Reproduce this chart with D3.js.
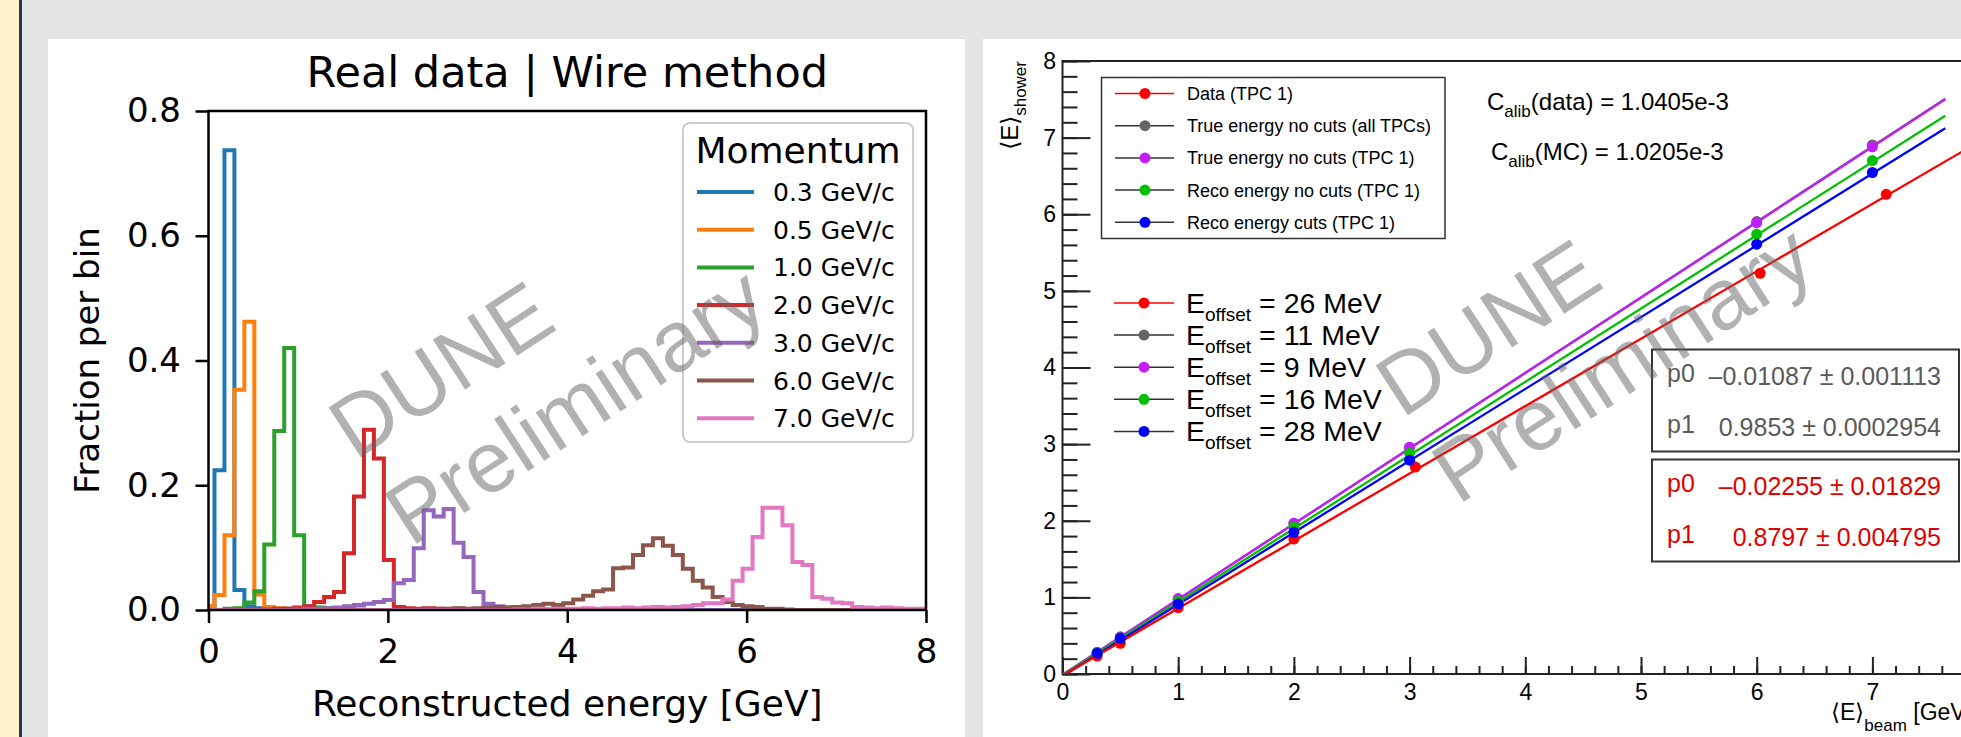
<!DOCTYPE html>
<html><head><meta charset="utf-8">
<script src="https://cdn.jsdelivr.net/npm/d3@7/dist/d3.min.js"></script>
<style>
html,body{margin:0;padding:0;background:#e5e5e5;overflow:hidden}
svg{display:block}
</style></head><body>
<svg id="chart" width="1961" height="737"></svg>
<script>
// ================= LEFT PANEL DATA (histograms, fraction per bin) =================
const momentumLabels = ["0.3 GeV/c","0.5 GeV/c","1.0 GeV/c","2.0 GeV/c","3.0 GeV/c","6.0 GeV/c","7.0 GeV/c"];
const histColors = ["#1f77b4","#ff7f0e","#2ca02c","#d62728","#9467bd","#8c564b","#e377c2"];
const binFirstEdge = 0.0667;      // GeV, edge of bin 0
const binWidth = 0.1111;          // GeV
const binIndexMin = -1, binIndexMax = 71;
// first bin index of each listed series, then the per-bin fractions
const histStart = [-1, -1, 1, 5, 8, 20, 30];
const hist_0p3 = [0.006, 0.224, 0.737, 0.032, 0.006, 0.003, 0.002, 0.001, 0.002, 0.001, 0.001];
const hist_0p5 = [0.006, 0.024, 0.120, 0.353, 0.462, 0.025, 0.005, 0.003, 0.002, 0.002, 0.001, 0.001];
const hist_1p0 = [0.002, 0.003, 0.012, 0.030, 0.105, 0.287, 0.420, 0.120, 0.006, 0.004, 0.003, 0.002, 0.002, 0.001];
const hist_2p0 = [0.001, 0.002, 0.002, 0.004, 0.006, 0.013, 0.021, 0.029, 0.091, 0.182, 0.289, 0.243, 0.080, 0.005, 0.003, 0.002, 0.003, 0.002, 0.001, 0.002, 0.001];
const hist_3p0 = [0.001, 0.002, 0.002, 0.003, 0.004, 0.006, 0.008, 0.010, 0.013, 0.016, 0.043, 0.048, 0.099, 0.160, 0.150, 0.162, 0.108, 0.085, 0.029, 0.010, 0.006, 0.004, 0.003, 0.002, 0.002, 0.001];
const hist_6p0 = [0.001, 0.002, 0.002, 0.002, 0.003, 0.002, 0.003, 0.004, 0.005, 0.004, 0.005, 0.006, 0.008, 0.010, 0.008, 0.011, 0.017, 0.023, 0.030, 0.033, 0.067, 0.068, 0.088, 0.104, 0.115, 0.103, 0.088, 0.066, 0.047, 0.036, 0.021, 0.013, 0.008, 0.006, 0.005, 0.002, 0.002, 0.001];
const hist_7p0 = [0.001, 0.001, 0.002, 0.001, 0.002, 0.002, 0.002, 0.003, 0.002, 0.003, 0.003, 0.004, 0.003, 0.004, 0.005, 0.004, 0.005, 0.006, 0.008, 0.011, 0.011, 0.017, 0.047, 0.066, 0.117, 0.164, 0.164, 0.136, 0.077, 0.072, 0.021, 0.018, 0.012, 0.011, 0.005, 0.004, 0.003, 0.004, 0.003, 0.002, 0.002, 0.002];
const histValues = [hist_0p3, hist_0p5, hist_1p0, hist_2p0, hist_3p0, hist_6p0, hist_7p0];
const leftXTicks = [0, 2, 4, 6, 8];
const leftYTicks = [0, 0.2, 0.4, 0.6, 0.8];

// ================= RIGHT PANEL DATA (linearity) =================
const seriesNames = ["Data (TPC 1)", "True energy no cuts (all TPCs)", "True energy no cuts (TPC 1)", "Reco energy no cuts (TPC 1)", "Reco energy cuts (TPC 1)"];
const seriesColors = ["#ff0000", "#666666", "#c21cff", "#00c000", "#0000ff"];
const offsetLabels = ["26", "11", "9", "16", "28"];
const beamE_data = [0.3, 0.5, 1.0, 2.0, 3.05, 6.03, 7.12];
const beamE_mc   = [0.3, 0.5, 1.0, 2.0, 3.0, 6.0, 7.0];
const showerE_data       = [0.235, 0.400, 0.866, 1.762, 2.700, 5.230, 6.260];
const showerE_trueAll    = [0.285, 0.485, 0.975, 1.965, 2.955, 5.905, 6.905];
const showerE_trueTPC1   = [0.280, 0.480, 0.985, 1.967, 2.960, 5.890, 6.880];
const showerE_recoNoCuts = [0.275, 0.470, 0.950, 1.920, 2.880, 5.740, 6.700];
const showerE_recoCuts   = [0.270, 0.466, 0.914, 1.850, 2.790, 5.610, 6.545];
const showerValues = [showerE_data, showerE_trueAll, showerE_trueTPC1, showerE_recoNoCuts, showerE_recoCuts];
const fitP0 = [-0.02255, -0.01087, -0.009, -0.016, -0.028];
const fitP1 = [0.8797, 0.9853, 0.984, 0.957, 0.937];
const fitXMax = [8.0, 7.63, 7.63, 7.63, 7.63];
const rightYTicks = [0, 1, 2, 3, 4, 5, 6, 7, 8];
const rightXTicks = [0, 1, 2, 3, 4, 5, 6, 7];
const calibTexts = ["(data) = 1.0405e-3", "(MC) = 1.0205e-3"];
const fitBoxGray = [["p0", "\u20130.01087 \u00b1 0.001113"], ["p1", "0.9853 \u00b1 0.0002954"]];
const fitBoxRed  = [["p0", "\u20130.02255 \u00b1 0.01829"], ["p1", "0.8797 \u00b1 0.004795"]];

// ================= DRAW =================
const svg = d3.select("#chart");
const defs = svg.append("defs");
svg.append("rect").attr("width", 1961).attr("height", 737).attr("fill", "#e5e5e5");
svg.append("rect").attr("x", 0).attr("y", 0).attr("width", 19).attr("height", 737).attr("fill", "#fff2cc");
svg.append("rect").attr("x", 19).attr("y", 0).attr("width", 3).attr("height", 737).attr("fill", "#1f3864");
svg.append("rect").attr("x", 48).attr("y", 39).attr("width", 917).attr("height", 698).attr("fill", "#fff");
svg.append("rect").attr("x", 983).attr("y", 39).attr("width", 978).attr("height", 698).attr("fill", "#fff");

// ---------- LEFT ----------
const LF = "'DejaVu Sans', sans-serif";
const L = {x0: 208.5, x1: 926, y0: 610, y1: 111};
const xL = d3.scaleLinear().domain([0, 8]).range([L.x0, L.x1]);
const yL = d3.scaleLinear().domain([0, 0.8]).range([L.y0, L.y1]);
defs.append("clipPath").attr("id", "clipL").append("rect")
  .attr("x", L.x0).attr("y", L.y1).attr("width", L.x1 - L.x0).attr("height", L.y0 - L.y1);
const gL = svg.append("g");
const edge = k => binFirstEdge + k * binWidth;
const stepLine = d3.line().x(d => xL(d[0])).y(d => yL(d[1]));
histValues.forEach((vals, i) => {
  const s = histStart[i];
  const val = k => (k >= s && k < s + vals.length) ? vals[k - s] : 0;
  const pts = [[edge(binIndexMin), 0]];
  for (let k = binIndexMin; k <= binIndexMax; k++) { const v = val(k); pts.push([edge(k), v], [edge(k + 1), v]); }
  pts.push([edge(binIndexMax + 1), 0]);
  gL.append("path").attr("clip-path", "url(#clipL)").attr("d", stepLine(pts))
    .attr("fill", "none").attr("stroke", histColors[i]).attr("stroke-width", 4).attr("stroke-linejoin", "miter");
});
const axLB = gL.append("g").attr("transform", `translate(0,${L.y0})`)
  .call(d3.axisBottom(xL).tickValues(leftXTicks).tickFormat(d3.format("d")).tickSize(13).tickPadding(16).tickSizeOuter(0));
const axLL = gL.append("g").attr("transform", `translate(${L.x0},0)`)
  .call(d3.axisLeft(yL).tickValues(leftYTicks).tickFormat(d3.format(".1f")).tickSize(13).tickPadding(14.5).tickSizeOuter(0));
[axLB, axLL].forEach(a => {
  a.select(".domain").remove();
  a.selectAll("line").attr("stroke", "#000").attr("stroke-width", 2.5);
  a.selectAll("text").attr("font-family", LF).attr("font-size", 34).attr("fill", "#000");
});
gL.append("rect").attr("x", L.x0).attr("y", L.y1).attr("width", L.x1 - L.x0).attr("height", L.y0 - L.y1)
  .attr("fill", "none").attr("stroke", "#000").attr("stroke-width", 2.5);
gL.append("text").attr("x", (L.x0 + L.x1) / 2).attr("y", 87).attr("text-anchor", "middle")
  .attr("font-family", LF).attr("font-size", 43).text("Real data | Wire method");
gL.append("text").attr("x", (L.x0 + L.x1) / 2).attr("y", 716).attr("text-anchor", "middle")
  .attr("font-family", LF).attr("font-size", 36).text("Reconstructed energy [GeV]");
gL.append("text").attr("transform", `translate(99,${(L.y0 + L.y1) / 2}) rotate(-90)`).attr("text-anchor", "middle")
  .attr("font-family", LF).attr("font-size", 34).text("Fraction per bin");
// legend
const lg = gL.append("g");
lg.append("rect").attr("x", 683).attr("y", 123).attr("width", 230).attr("height", 319).attr("rx", 7)
  .attr("fill", "#fff").attr("fill-opacity", 0.8).attr("stroke", "#cccccc").attr("stroke-width", 2);
lg.append("text").attr("x", 798).attr("y", 163).attr("text-anchor", "middle")
  .attr("font-family", LF).attr("font-size", 36).text("Momentum");
momentumLabels.forEach((lab, i) => {
  const cy = 192 + i * 37.7;
  lg.append("line").attr("x1", 697).attr("x2", 754).attr("y1", cy).attr("y2", cy)
    .attr("stroke", histColors[i]).attr("stroke-width", 4);
  lg.append("text").attr("x", 773).attr("y", cy + 9).attr("font-family", LF).attr("font-size", 25).text(lab);
});

// watermark helper
function watermark(x, y) {
  const g = svg.append("g").attr("transform", `translate(${x},${y}) rotate(-33)`);
  const t = g.append("text").attr("font-family", "'Liberation Sans', Arial, sans-serif").attr("font-size", 86)
    .attr("fill", "#646464").attr("fill-opacity", 0.5);
  t.append("tspan").attr("x", 0).attr("y", 0).text("DUNE");
  t.append("tspan").attr("x", 0).attr("y", 103).text("Preliminary");
}
watermark(355, 461);

// ---------- RIGHT ----------
const RF = "'Liberation Sans', Arial, sans-serif";
const R = {x0: 1062.5, x1: 1988.1, y0: 674, y1: 61};
const xR = d3.scaleLinear().domain([0, 8]).range([R.x0, R.x1]);
const yR = d3.scaleLinear().domain([0, 8]).range([R.y0, R.y1]);
defs.append("clipPath").attr("id", "clipR").append("rect")
  .attr("x", R.x0).attr("y", R.y1).attr("width", R.x1 - R.x0).attr("height", R.y0 - R.y1);
const gR = svg.append("g");
const minorTicks = d3.range(0, 41).map(i => i / 5);
const axRLmin = gR.append("g").attr("transform", `translate(${R.x0},0)`)
  .call(d3.axisLeft(yR).tickValues(minorTicks).tickFormat("").tickSize(-15).tickSizeOuter(0));
const axRL = gR.append("g").attr("transform", `translate(${R.x0},0)`)
  .call(d3.axisLeft(yR).tickValues(rightYTicks).tickFormat(d3.format("d")).tickSize(-28).tickPadding(6.5).tickSizeOuter(0));
const axRBmin = gR.append("g").attr("transform", `translate(0,${R.y0})`)
  .call(d3.axisBottom(xR).tickValues(minorTicks).tickFormat("").tickSize(-8).tickSizeOuter(0));
const axRB = gR.append("g").attr("transform", `translate(0,${R.y0})`)
  .call(d3.axisBottom(xR).tickValues(rightXTicks).tickFormat(d3.format("d")).tickSize(-17).tickPadding(10).tickSizeOuter(0));
[axRLmin, axRL, axRBmin, axRB].forEach(a => {
  a.select(".domain").remove();
  a.selectAll("line").attr("stroke", "#222").attr("stroke-width", 2);
  a.selectAll("text").attr("font-family", RF).attr("font-size", 23).attr("fill", "#000");
});
gR.append("rect").attr("x", R.x0).attr("y", R.y1).attr("width", R.x1 - R.x0).attr("height", R.y0 - R.y1)
  .attr("fill", "none").attr("stroke", "#222").attr("stroke-width", 2);

// fit lines
const fitLine = d3.line().x(d => xR(d[0])).y(d => yR(d[1]));
[1, 2, 3, 4, 0].forEach(i => {
  gR.append("path").attr("clip-path", "url(#clipR)")
    .attr("d", fitLine([[0, fitP0[i]], [fitXMax[i], fitP0[i] + fitP1[i] * fitXMax[i]]]))
    .attr("stroke", seriesColors[i]).attr("stroke-width", 2.3).attr("fill", "none");
});
// points
[0, 1, 2, 3, 4].forEach(i => {
  const xs = i === 0 ? beamE_data : beamE_mc;
  gR.append("g").selectAll("circle").data(showerValues[i]).join("circle")
    .attr("cx", (d, j) => xR(xs[j])).attr("cy", d => yR(d)).attr("r", 5.5).attr("fill", seriesColors[i]);
});

// legend box
const rl = gR.append("g");
rl.append("rect").attr("x", 1101.5).attr("y", 77.5).attr("width", 343.5).attr("height", 161)
  .attr("fill", "#fff").attr("stroke", "#333").attr("stroke-width", 1.5);
seriesNames.forEach((nm, i) => {
  const cy = 93.5 + i * 32.2;
  rl.append("line").attr("x1", 1115).attr("x2", 1174).attr("y1", cy).attr("y2", cy)
    .attr("stroke", i === 0 ? "#ff0000" : "#333").attr("stroke-width", 1.5);
  rl.append("circle").attr("cx", 1145).attr("cy", cy).attr("r", 5.5).attr("fill", seriesColors[i]);
  rl.append("text").attr("x", 1187).attr("y", cy + 6.5).attr("font-family", RF).attr("font-size", 18).text(nm);
});
// offsets legend
offsetLabels.forEach((v, i) => {
  const cy = 303 + i * 32.1;
  rl.append("line").attr("x1", 1114).attr("x2", 1174).attr("y1", cy).attr("y2", cy)
    .attr("stroke", i === 0 ? "#ff0000" : "#333").attr("stroke-width", 1.5);
  rl.append("circle").attr("cx", 1144).attr("cy", cy).attr("r", 5.5).attr("fill", seriesColors[i]);
  const t = rl.append("text").attr("x", 1186).attr("y", cy + 9.5).attr("font-family", RF).attr("font-size", 28.5);
  t.append("tspan").text("E");
  t.append("tspan").attr("font-size", 19).attr("dy", 8).text("offset");
  t.append("tspan").attr("dy", -8).text(` = ${v} MeV`);
});
// calibration constants
[[1487, 110, calibTexts[0]], [1491, 160, calibTexts[1]]].forEach(([x, y, s]) => {
  const t = rl.append("text").attr("x", x).attr("y", y).attr("font-family", RF).attr("font-size", 24);
  t.append("tspan").text("C");
  t.append("tspan").attr("font-size", 17).attr("dy", 7).text("alib");
  t.append("tspan").attr("dy", -7).text(s);
});
// fit boxes
function fitBox(y, rows, color) {
  rl.append("rect").attr("x", 1652).attr("y", y).attr("width", 307).attr("height", 102)
    .attr("fill", "#fff").attr("stroke", "#333").attr("stroke-width", 2);
  rows.forEach((r, j) => {
    const by = y + 35 + j * 51;
    rl.append("text").attr("x", 1667).attr("y", by - 3).attr("font-family", RF).attr("font-size", 25).attr("fill", color).text(r[0]);
    rl.append("text").attr("x", 1941).attr("y", by).attr("text-anchor", "end").attr("font-family", RF).attr("font-size", 25).attr("fill", color).text(r[1]);
  });
}
fitBox(349.5, fitBoxGray, "#5a5a5a");
fitBox(459.5, fitBoxRed, "#e00000");

// axis titles
const yt = rl.append("text").attr("transform", `translate(1018,61) rotate(-90)`).attr("text-anchor", "end")
  .attr("font-family", RF).attr("font-size", 24);
yt.append("tspan").text("\u27e8E\u27e9");
yt.append("tspan").attr("font-size", 17).attr("dy", 8).text("shower");
const xt = rl.append("text").attr("x", 1831).attr("y", 720).attr("font-family", RF).attr("font-size", 23);
xt.append("tspan").text("\u27e8E\u27e9");
xt.append("tspan").attr("font-size", 17).attr("dy", 11).text("beam");
xt.append("tspan").attr("dy", -11).text(" [GeV]");

watermark(1402, 419);
</script>
</body></html>
